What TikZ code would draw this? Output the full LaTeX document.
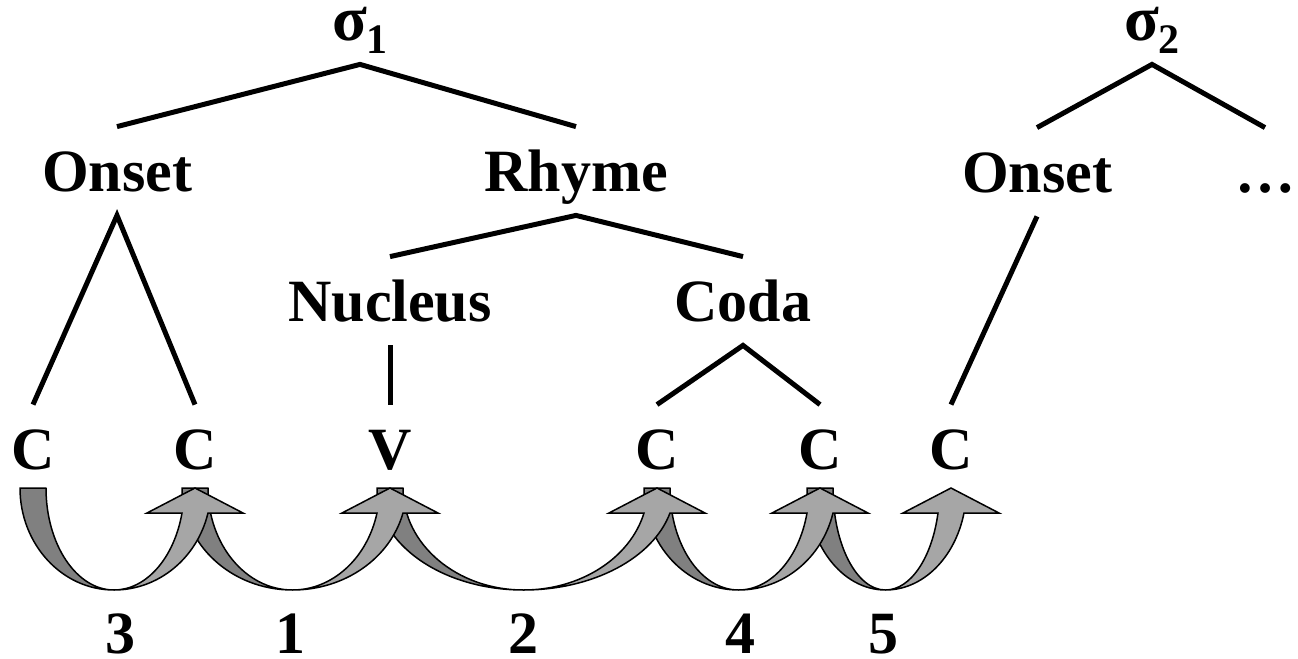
\documentclass[tikz,border=0pt]{standalone}
\usepackage{fontspec}
\setmainfont{Liberation Serif}
\usetikzlibrary{calc}

\definecolor{bandback}{gray}{0.50}
\definecolor{bandfront}{gray}{0.65}

% Rear half of a curved "shift" arrow: leaves node #1, dips to the midpoint
\newcommand\backband[2]{%
  \path[back] let \p1=(#1), \p2=(#2) in
    (\x1-6.5pt,-244pt)
    arc[start angle=180, end angle=270,
        x radius={0.5*(\x2-\x1)+6.5pt}, y radius=51pt]
    arc[start angle=270, end angle=180,
        x radius={0.5*(\x2-\x1)-6.5pt}, y radius=51pt]
    -- cycle;}

% Front half with the arrow head, rising from the midpoint into node #2
\newcommand\frontband[2]{%
  \path[front] let \p1=(#1), \p2=(#2) in
    ({0.5*(\x1+\x2)},-295pt)
    arc[start angle=-90, end angle=-14.19,
        x radius={(0.5*(\x2-\x1)+6.5pt)/0.9695}, y radius=51pt]
    -- (\x2+24pt,-256.5pt) -- (\x2,-244pt) -- (\x2-24pt,-256.5pt)
    -- (\x2-6.5pt,-256.5pt)
    arc[start angle=-14.19, end angle=-90,
        x radius={(0.5*(\x2-\x1)-6.5pt)/0.9695}, y radius=51pt]
    -- cycle;}

\begin{document}
\begin{tikzpicture}[x=0.5pt, y=0.5pt,
  lab/.style={inner sep=0pt, text height=32pt, text depth=12pt, anchor=base,
              font=\fontsize{30}{36}\selectfont\bfseries},
  toplab/.style={lab, text height=20pt},
  steplab/.style={lab, text height=21pt, text depth=0pt},
  branch/.style={line width=2.5pt},
  back/.style={draw=black, line width=0.75pt, fill=bandback, line join=round},
  front/.style={draw=black, line width=0.75pt, fill=bandfront, line join=miter},
]
\fill[white] (0,0) rectangle (1298,-659);
\useasboundingbox (0,0) rectangle (1298,-659);

% syllable nodes
\node[toplab] (sig1) at (360,-40) {{\fontsize{32}{36}\selectfont σ}\raisebox{-6.5pt}{\fontsize{21}{24}\selectfont 1}};
\node[toplab] (sig2) at (1152,-40) {{\fontsize{32}{36}\selectfont σ}\raisebox{-6.5pt}{\fontsize{21}{24}\selectfont 2}};

% constituents
\node[lab] (on1)  at (117,-191) {Onset};
\node[lab] (rh)   at (576,-191) {Rhyme};
\node[lab] (on2)  at (1037,-192) {Onset};
\node[lab] (dots) at (1265,-192) {…};
\node[lab] (nuc)  at (390,-321) {Nucleus};
\node[lab] (coda) at (743,-321) {Coda};

% segments
\node[lab] (c1) at (33,-469)  {C};
\node[lab] (c2) at (195,-469) {C};
\node[lab] (v)  at (390,-469) {V};
\node[lab] (c4) at (657,-469) {C};
\node[lab] (c5) at (820,-469) {C};
\node[lab] (c6) at (951,-469) {C};

% step numbers
\node[steplab] (n3) at (120,-653) {3};
\node[steplab] (n1) at (290,-653) {1};
\node[steplab] (n2) at (523,-653) {2};
\node[steplab] (n4) at (740,-653) {4};
\node[steplab] (n5) at (883,-653) {5};

% tree branches
\draw[branch] (on1.north) -- (sig1.south) -- (rh.north);
\draw[branch] (c1.north) -- (on1.south) -- (c2.north);
\draw[branch] (nuc.north) -- (rh.south) -- (coda.north);
\draw[branch] (nuc.south) -- (v.north);
\draw[branch] (c4.north) -- (coda.south) -- (c5.north);
\draw[branch] (on2.north) -- (sig2.south) -- (dots.north);
\draw[branch] (on2.south) -- (c6.north);

% curved arrows: rear halves first, then fronts with heads
\backband{c1}{c2}
\backband{c2}{v}
\backband{v}{c4}
\backband{c4}{c5}
\backband{c5}{c6}
\frontband{c1}{c2}
\frontband{c2}{v}
\frontband{v}{c4}
\frontband{c4}{c5}
\frontband{c5}{c6}
\end{tikzpicture}
\end{document}
